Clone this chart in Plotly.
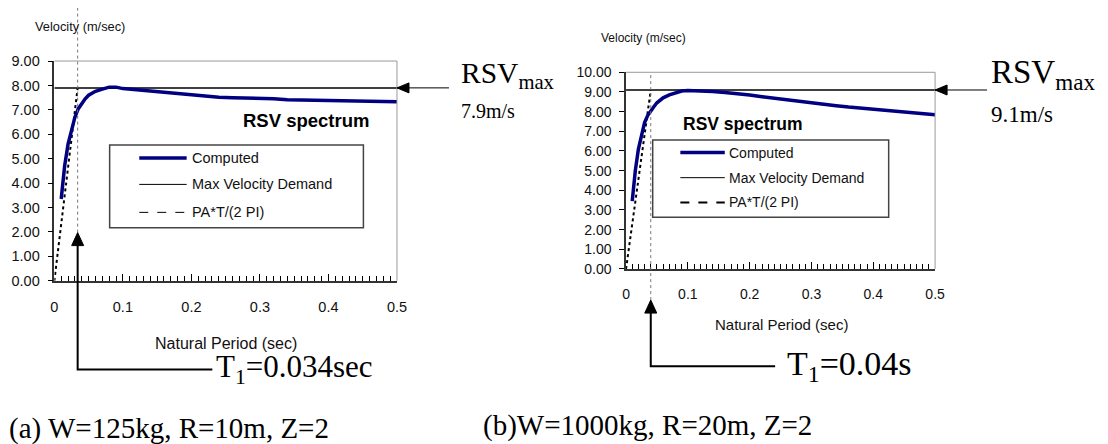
import plotly.graph_objects as go

W, H = 1108, 444

# Natural periods (sec) at which the RSV spectra were computed
periods = [0.01, 0.015, 0.02, 0.025, 0.03, 0.035, 0.04, 0.045, 0.05, 0.06,
           0.07, 0.08, 0.09, 0.10, 0.12, 0.14, 0.16, 0.18, 0.20, 0.22,
           0.24, 0.26, 0.28, 0.30, 0.32, 0.34, 0.36, 0.38, 0.40, 0.42,
           0.44, 0.46, 0.48, 0.50]

# Computed relative spectral velocity (m/sec)
rsv_a = [3.35, 4.70, 5.60, 6.20, 6.70, 7.05, 7.27, 7.45, 7.60, 7.76,
         7.85, 7.93, 7.93, 7.87, 7.82, 7.77, 7.71, 7.65, 7.60, 7.56,
         7.52, 7.50, 7.49, 7.47, 7.45, 7.41, 7.40, 7.40, 7.38, 7.37,
         7.35, 7.35, 7.34, 7.33]
rsv_b = [3.45, 5.00, 6.10, 6.85, 7.45, 7.80, 8.05, 8.25, 8.45, 8.70,
         8.85, 8.97, 9.05, 9.07, 9.06, 9.02, 8.97, 8.92, 8.85, 8.76,
         8.68, 8.60, 8.50, 8.42, 8.37, 8.30, 8.23, 8.17, 8.12, 8.07,
         8.02, 7.96, 7.90, 7.84]

# Max velocity demand (m/s) and first natural period T1 (sec)
rsv_max = [7.9, 9.1]
t1 = [0.034, 0.04]
t1_labels = ["0.034sec", "0.04s"]
y_max = [9, 10]
captions = ["(a) W=125kg, R=10m, Z=2", "(b)W=1000kg, R=20m, Z=2"]

SANS = "Liberation Sans, Arial, sans-serif"
SERIF = "Liberation Serif, Times New Roman, serif"
NAVY = "#000080"


def px(x):
    return x / W


def py(y):
    return 1 - y / H


# panel geometry in pixels: left, right, top, bottom of plot area
panels = [
    dict(l=51, r=398, t=55, b=283, tick=14.5, title=16, vel=12.8,
         leg=dict(x0=107, x1=364, y0=142, y1=228, s0=137, s1=185, tx=188,
                  rows=[155.7, 183, 212], font=14.5, padash=1),
         spec=dict(x=240, y=117, size=18.5),
         vel_pos=(29, 19), xt=(225, 348),
         rsv=dict(x=461, y=69, size=29.5, sub_y=107, sub_size=20),
         arrow_tip=233, elbow_y=375, elbow_x=211, t1_gap=2, t1_size=31, t1_top=0,
         cap=dict(x=3, y=436)),
    dict(l=630, r=943, t=66.7, b=270.7, tick=14, title=15, vel=12,
         leg=dict(x0=657, x1=896, y0=137, y1=217, s0=685, s1=730, tx=732,
                  rows=[150, 176, 201.7], font=14, padash=2),
         spec=dict(x=686, y=120, size=17.5),
         vel_pos=(603, 30.7), xt=(787, 328),
         rsv=dict(x=998, y=69, size=33, sub_y=110, sub_size=23),
         arrow_tip=303, elbow_y=371.7, elbow_x=781, t1_gap=10, t1_size=34, t1_top=66.7,
         cap=dict(x=483, y=433)),
]

series = [rsv_a, rsv_b]

fig = go.Figure()
layout = dict(width=W, height=H, margin=dict(l=0, r=0, t=0, b=0),
              paper_bgcolor="white", plot_bgcolor="white", showlegend=False)
shapes, annotations = [], []

for i, p in enumerate(panels):
    xa = "x" if i == 0 else "x2"
    ya = "y" if i == 0 else "y2"
    xkey = "xaxis" if i == 0 else "xaxis2"
    ykey = "yaxis" if i == 0 else "yaxis2"

    layout[xkey] = dict(
        domain=[px(p["l"]), px(p["r"])], range=[0, 0.5], anchor=ya,
        tickmode="linear", tick0=0, dtick=0.1, ticks="inside", ticklen=7,
        tickcolor="black", tickwidth=1.2, showticklabels=True,
        showline=True, linecolor="#333", linewidth=1.5,
        showgrid=False, zeroline=False, ticklabelstandoff=12,
        tickfont=dict(family=SANS, size=p["tick"], color="#111"),
        minor=dict(tickmode="linear", tick0=0, dtick=0.01, ticks="inside",
                   ticklen=5, tickcolor="black", tickwidth=1.2, showgrid=False),
    )
    layout[ykey] = dict(
        domain=[py(p["b"]), py(p["t"])], range=[0, y_max[i]], anchor=xa,
        tickmode="linear", tick0=0, dtick=1, tickformat=".2f", ticks="outside",
        ticklen=5, tickcolor="black", tickwidth=1.2,
        showline=True, linecolor="#333", linewidth=1.5,
        showgrid=False, zeroline=False, ticklabelstandoff=5,
        tickfont=dict(family=SANS, size=p["tick"], color="#111"),
    )

    # PA*T/(2 PI) line reaching the max demand at T1
    fig.add_trace(go.Scatter(x=[0, t1[i]], y=[0, rsv_max[i]], xaxis=xa, yaxis=ya,
                             mode="lines", line=dict(color="black", width=2, dash="dot"),
                             cliponaxis=False))
    # Max velocity demand
    fig.add_trace(go.Scatter(x=[0, 0.5], y=[rsv_max[i], rsv_max[i]], xaxis=xa, yaxis=ya,
                             mode="lines", line=dict(color="black", width=1.5)))
    # Computed spectrum
    fig.add_trace(go.Scatter(x=periods, y=series[i], xaxis=xa, yaxis=ya,
                             mode="lines", line=dict(color=NAVY, width=3.5),
                             cliponaxis=False))

    # grey frame on top and right of plot area
    shapes.append(dict(type="line", xref="paper", yref="paper",
                       x0=px(p["l"]), x1=px(p["r"]), y0=py(p["t"]), y1=py(p["t"]),
                       line=dict(color="#999", width=1)))
    shapes.append(dict(type="line", xref="paper", yref="paper",
                       x0=px(p["r"]), x1=px(p["r"]), y0=py(p["t"]), y1=py(p["b"]),
                       line=dict(color="#999", width=1)))

    # vertical dotted marker at T1
    shapes.append(dict(type="line", xref=xa, yref="paper",
                       x0=t1[i], x1=t1[i], y0=py(p["arrow_tip"]), y1=py(p["t1_top"]),
                       line=dict(color="#777", width=1, dash="dot")))
    # elbow leader to the T1 label, with an upward arrowhead
    x_elbow = (p["elbow_x"] - p["l"]) / (p["r"] - p["l"]) * 0.5
    shapes.append(dict(type="path", xref=xa, yref="paper",
                       path=f"M {t1[i]},{py(p['arrow_tip'] + 10)} V {py(p['elbow_y'])} H {x_elbow}",
                       line=dict(color="black", width=2)))
    shapes.append(dict(type="path", xref=xa, yref="paper",
                       xsizemode="pixel", ysizemode="pixel",
                       xanchor=t1[i], yanchor=py(p["arrow_tip"]),
                       path="M 0,0 L -6,-13 L 6,-13 Z",
                       line=dict(color="black", width=1), fillcolor="black"))
    annotations.append(dict(xref="paper", yref="paper", x=px(p["elbow_x"] + p["t1_gap"]),
                            y=py(p["elbow_y"]), xanchor="left", yanchor="middle",
                            text=f"T<sub>1</sub>={t1_labels[i]}", showarrow=False,
                            font=dict(family=SERIF, size=p["t1_size"], color="black")))

    # RSVmax pointer: leader line and left-pointing arrowhead at the frame edge
    shapes.append(dict(type="path", xref="paper", yref=ya,
                       xsizemode="pixel", ysizemode="pixel",
                       xanchor=px(p["r"]), yanchor=rsv_max[i],
                       path="M 0,0 L 52,0",
                       line=dict(color="black", width=1)))
    shapes.append(dict(type="path", xref="paper", yref=ya,
                       xsizemode="pixel", ysizemode="pixel",
                       xanchor=px(p["r"]), yanchor=rsv_max[i],
                       path="M 0,0 L 12,5 L 12,-5 Z",
                       line=dict(color="black", width=1), fillcolor="black"))
    r = p["rsv"]
    annotations.append(dict(xref="paper", yref="paper", x=px(r["x"]), y=py(r["y"]),
                            xanchor="left", yanchor="middle",
                            text="RSV<sub>max</sub>", showarrow=False,
                            font=dict(family=SERIF, size=r["size"], color="black")))
    annotations.append(dict(xref="paper", yref="paper", x=px(r["x"]), y=py(r["sub_y"]),
                            xanchor="left", yanchor="middle",
                            text=f"{rsv_max[i]}m/s", showarrow=False,
                            font=dict(family=SERIF, size=r["sub_size"], color="black")))

    # axis titles
    annotations.append(dict(xref="paper", yref="paper", x=px(p["vel_pos"][0]),
                            y=py(p["vel_pos"][1]), xanchor="left", yanchor="middle",
                            text="Velocity (m/sec)", showarrow=False,
                            font=dict(family=SANS, size=p["vel"], color="#111")))
    annotations.append(dict(xref="paper", yref="paper", x=px(p["xt"][0]),
                            y=py(p["xt"][1]), xanchor="center", yanchor="middle",
                            text="Natural Period (sec)", showarrow=False,
                            font=dict(family=SANS, size=p["title"], color="#111")))

    # chart label
    s = p["spec"]
    annotations.append(dict(xref="paper", yref="paper", x=px(s["x"]), y=py(s["y"]),
                            xanchor="left", yanchor="middle", text="<b>RSV spectrum</b>",
                            showarrow=False,
                            font=dict(family=SANS, size=s["size"], color="black")))

    # legend box
    lg = p["leg"]
    shapes.append(dict(type="rect", xref="paper", yref="paper",
                       x0=px(lg["x0"]), x1=px(lg["x1"]), y0=py(lg["y1"]), y1=py(lg["y0"]),
                       line=dict(color="#444", width=1.5), fillcolor="white"))
    styles = [dict(color=NAVY, width=3.5),
              dict(color="black", width=1),
              dict(color="black", width=lg["padash"], dash="dash")]
    names = ["Computed", "Max Velocity Demand", "PA*T/(2 PI)"]
    for yrow, st, nm in zip(lg["rows"], styles, names):
        shapes.append(dict(type="line", xref="paper", yref="paper",
                           x0=px(lg["s0"]), x1=px(lg["s1"]), y0=py(yrow), y1=py(yrow),
                           line=st))
        annotations.append(dict(xref="paper", yref="paper", x=px(lg["tx"]), y=py(yrow),
                                xanchor="left", yanchor="middle", text=nm,
                                showarrow=False,
                                font=dict(family=SANS, size=lg["font"], color="#111")))

    # caption
    c = p["cap"]
    annotations.append(dict(xref="paper", yref="paper", x=px(c["x"]), y=py(c["y"]),
                            xanchor="left", yanchor="middle", text=captions[i],
                            showarrow=False,
                            font=dict(family=SERIF, size=29, color="black")))

layout["shapes"] = shapes
layout["annotations"] = annotations
fig.update_layout(**layout)
fig.write_html("out.html")
